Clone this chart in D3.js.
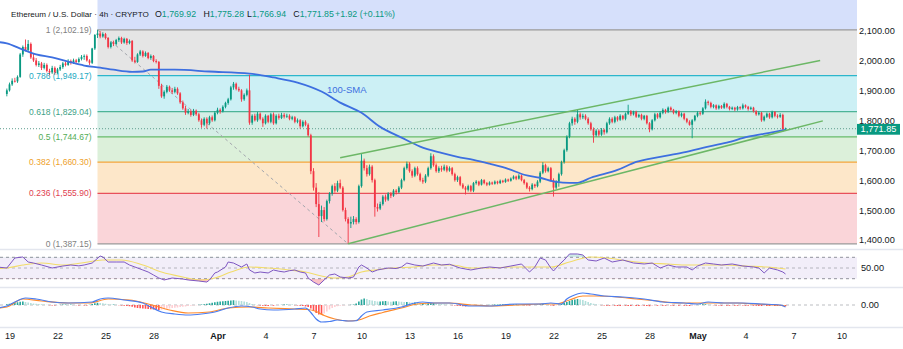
<!DOCTYPE html>
<html>
<head>
<meta charset="utf-8">
<script src="https://cdn.jsdelivr.net/npm/d3@7"></script>
<style>
  html, body { margin: 0; padding: 0; background: #ffffff; }
  svg { display: block; font-family: "Liberation Sans", Arial, sans-serif; }
</style>
</head>
<body>
<svg id="chart" width="903" height="349"></svg>
<script>
// ETH/USD 4h candles, first bar opens 18 Mar 2025 20:00 UTC
const candleStart = Date.UTC(2025, 2, 18, 20);
const candleHours = 4;

// [open, high, low, close]
const ohlc = [
  [1888,1906,1880,1900],
  [1900,1926,1896,1920],[1920,1940,1915,1932],[1932,1942,1926,1930],[1930,1950,1925,1945],[1945,2025,1942,2020],[2020,2050,2012,2045],
  [2045,2070,2030,2035],[2035,2068,2028,2055],[2055,2060,2005,2010],[2010,2022,1995,2000],[2000,2008,1980,1985],[1985,1998,1978,1990],
  [1990,1995,1968,1975],[1975,1992,1970,1985],[1985,1990,1960,1965],[1965,1972,1950,1960],[1960,1982,1955,1975],[1975,1980,1952,1958],
  [1958,1975,1954,1970],[1970,1985,1965,1978],[1978,1995,1972,1990],[1990,1996,1980,1985],[1985,2004,1982,1998],[1998,2003,1986,1992],
  [1992,2006,1988,2000],[2000,2005,1990,1995],[1995,2010,1992,2005],[2005,2018,2000,2012],[2012,2020,2002,2015],[2015,2020,1996,2000],
  [2000,2004,1985,1992],[1992,2042,1988,2040],[2040,2088,2035,2085],[2085,2102.19,2075,2090],[2090,2098,2074,2080],[2080,2094,2076,2088],
  [2088,2092,2070,2075],[2075,2078,2040,2045],[2045,2064,2040,2060],[2060,2066,2048,2055],[2055,2072,2050,2068],[2068,2080,2062,2075],
  [2075,2079,2055,2060],[2060,2076,2056,2072],[2072,2075,2052,2058],[2058,2070,2054,2065],[2065,2068,1995,2000],[2000,2012,1990,1995],
  [1995,2024,1992,2020],[2020,2035,2015,2030],[2030,2034,2010,2015],[2015,2030,2012,2025],[2025,2028,2004,2008],[2008,2020,2002,2015],
  [2015,2018,1994,1998],[1998,2004,1990,1995],[1995,1998,1905,1915],[1915,1922,1875,1880],[1880,1900,1872,1895],[1895,1918,1890,1912],
  [1912,1916,1895,1900],[1900,1908,1888,1895],[1895,1912,1890,1905],[1905,1910,1885,1890],[1890,1894,1855,1860],[1860,1866,1835,1840],
  [1840,1848,1818,1825],[1825,1838,1820,1830],[1830,1836,1812,1818],[1818,1838,1814,1832],[1832,1836,1815,1820],[1820,1825,1795,1800],
  [1800,1806,1775,1785],[1785,1810,1780,1805],[1805,1810,1772,1790],[1790,1815,1785,1810],[1810,1816,1795,1800],[1800,1830,1796,1825],
  [1825,1842,1820,1835],[1835,1840,1822,1830],[1830,1850,1826,1845],[1845,1862,1840,1858],[1858,1875,1852,1870],[1870,1915,1866,1910],
  [1910,1928,1902,1922],[1922,1926,1900,1905],[1905,1912,1895,1900],[1900,1904,1862,1870],[1870,1890,1865,1885],[1885,1906,1880,1900],
  [1900,1952,1785,1792],[1792,1820,1785,1815],[1815,1822,1796,1800],[1800,1828,1795,1822],[1822,1826,1800,1805],[1805,1810,1778,1790],
  [1790,1820,1786,1815],[1815,1818,1790,1795],[1795,1825,1790,1820],[1820,1826,1785,1790],[1790,1820,1786,1815],[1815,1822,1802,1808],
  [1808,1825,1804,1818],[1818,1824,1806,1812],[1812,1822,1808,1815],[1815,1820,1800,1805],[1805,1815,1800,1810],[1810,1814,1790,1795],
  [1795,1806,1790,1800],[1800,1804,1772,1780],[1780,1800,1776,1795],[1795,1800,1780,1785],[1785,1790,1745,1750],[1750,1755,1620,1630],
  [1630,1640,1565,1575],[1575,1590,1510,1520],[1520,1560,1410,1480],[1480,1515,1460,1500],[1500,1510,1462,1470],[1470,1535,1465,1530],
  [1530,1560,1522,1555],[1555,1585,1548,1580],[1580,1590,1558,1565],[1565,1598,1560,1590],[1590,1602,1570,1575],[1575,1580,1495,1500],
  [1500,1508,1462,1470],[1470,1476,1387.15,1455],[1455,1478,1440,1460],[1460,1480,1452,1470],[1470,1476,1452,1460],[1460,1585,1455,1580],
  [1580,1687,1575,1665],[1665,1672,1632,1640],[1640,1650,1612,1620],[1620,1652,1615,1645],[1645,1650,1592,1600],[1600,1605,1478,1510],
  [1510,1522,1495,1505],[1505,1528,1500,1520],[1520,1550,1515,1545],[1545,1552,1528,1535],[1535,1560,1530,1555],[1555,1560,1540,1548],
  [1548,1570,1544,1565],[1565,1570,1552,1560],[1560,1580,1556,1575],[1575,1605,1570,1600],[1600,1645,1596,1640],[1640,1662,1635,1655],
  [1655,1660,1625,1630],[1630,1636,1608,1615],[1615,1645,1610,1640],[1640,1646,1615,1620],[1620,1625,1595,1600],[1600,1608,1588,1595],
  [1595,1620,1590,1615],[1615,1645,1610,1640],[1640,1690,1635,1680],[1680,1686,1645,1650],[1650,1656,1625,1630],[1630,1646,1624,1640],
  [1640,1648,1628,1635],[1635,1652,1630,1645],[1645,1650,1626,1632],[1632,1646,1628,1640],[1640,1644,1615,1620],[1620,1625,1595,1600],
  [1600,1615,1594,1610],[1610,1614,1580,1585],[1585,1590,1570,1575],[1575,1580,1552,1568],[1568,1585,1562,1580],[1580,1584,1560,1565],
  [1565,1594,1560,1590],[1590,1600,1585,1595],[1595,1598,1580,1585],[1585,1604,1582,1600],[1600,1603,1586,1590],[1590,1594,1580,1585],
  [1585,1596,1582,1592],[1592,1595,1584,1588],[1588,1599,1585,1595],[1595,1598,1586,1590],[1590,1602,1587,1598],[1598,1601,1590,1594],
  [1594,1606,1591,1602],[1602,1605,1594,1598],[1598,1609,1595,1605],[1605,1616,1602,1612],[1612,1615,1600,1605],[1605,1620,1602,1615],
  [1615,1618,1596,1600],[1600,1604,1585,1590],[1590,1594,1570,1575],[1575,1580,1562,1570],[1570,1590,1566,1585],[1585,1588,1574,1580],
  [1580,1600,1576,1595],[1595,1630,1590,1625],[1625,1660,1620,1650],[1650,1655,1625,1630],[1630,1645,1626,1640],[1640,1644,1595,1600],
  [1600,1606,1545,1575],[1575,1600,1570,1595],[1595,1625,1578,1620],[1620,1665,1615,1660],[1660,1705,1655,1700],[1700,1750,1695,1745],
  [1745,1795,1740,1790],[1790,1812,1782,1805],[1805,1810,1785,1795],[1795,1835,1790,1820],[1820,1826,1802,1810],[1810,1822,1804,1815],
  [1815,1820,1800,1805],[1805,1810,1785,1790],[1790,1795,1765,1770],[1770,1776,1725,1750],[1750,1770,1745,1765],[1765,1770,1746,1752],
  [1752,1774,1748,1768],[1768,1772,1752,1760],[1760,1795,1756,1790],[1790,1810,1785,1805],[1805,1810,1790,1795],[1795,1815,1790,1810],
  [1810,1814,1796,1802],[1802,1820,1798,1815],[1815,1818,1800,1805],[1805,1826,1800,1822],[1822,1852,1818,1830],[1830,1834,1814,1820],
  [1820,1832,1816,1828],[1828,1832,1808,1812],[1812,1822,1808,1818],[1818,1822,1800,1805],[1805,1818,1800,1815],[1815,1818,1786,1790],
  [1790,1794,1760,1770],[1770,1804,1766,1800],[1800,1825,1796,1820],[1820,1824,1805,1810],[1810,1830,1806,1825],[1825,1840,1820,1835],
  [1835,1838,1822,1828],[1828,1846,1824,1842],[1842,1846,1830,1835],[1835,1838,1820,1825],[1825,1834,1820,1830],[1830,1833,1810,1815],
  [1815,1826,1810,1822],[1822,1825,1800,1805],[1805,1808,1790,1795],[1795,1800,1782,1785],[1785,1804,1740,1800],[1800,1818,1796,1815],
  [1815,1830,1810,1825],[1825,1830,1816,1822],[1822,1844,1818,1840],[1840,1870,1836,1862],[1862,1866,1850,1858],[1858,1862,1840,1845],
  [1845,1854,1840,1850],[1850,1853,1835,1840],[1840,1852,1836,1848],[1848,1851,1838,1842],[1842,1860,1838,1855],[1855,1858,1840,1845],
  [1845,1848,1833,1838],[1838,1846,1834,1842],[1842,1845,1830,1836],[1836,1848,1832,1844],[1844,1847,1835,1840],[1840,1856,1836,1850],
  [1850,1853,1840,1845],[1845,1848,1832,1838],[1838,1846,1834,1842],[1842,1845,1826,1830],[1830,1834,1815,1820],[1820,1830,1816,1825],
  [1825,1828,1795,1800],[1800,1816,1796,1812],[1812,1826,1808,1822],[1822,1825,1805,1810],[1810,1832,1806,1828],[1828,1831,1810,1815],
  [1815,1820,1806,1812],[1812,1824,1808,1818],[1818,1822,1762,1769.93],[1769.92,1775.28,1766.94,1771.85]
];

// Fibonacci retracement between the 24 Mar high and the 9 Apr low
const fibRatios = ["1", "0.786", "0.618", "0.5", "0.382", "0.236", "0"];
const fibPrices = [2102.19, 1949.17, 1829.04, 1744.67, 1660.30, 1555.90, 1387.15];
const fibHighBar = 34;
const fibLowBar = 128;

// Rising channel: [bar index, price] end points
const channelUpper = [[125, 1675], [305, 1999.5]];
const channelLower = [[128, 1387.15], [306, 1798]];

// 100-period simple moving average, [bar index, price]
const smaPoints = [[-4,2062],[0,2057],[6,2036],[11,2020],[17,2010],[23,1996],[29,1983],[35,1976],[40,1969],[47,1962],
  [51,1963],[54,1969],[63,1969],[76,1963],[91,1956],[100,1943],[109,1926],[118,1896],[125,1859],[133,1825],[140,1778],
  [148,1742],[155,1712],[163,1691],[169,1678],[175,1668],[181,1655],[188,1638],[194,1618],[200,1608],[206,1594],[211,1591],
  [214,1591],[219,1608],[229,1634],[236,1661],[245,1678],[253,1691],[261,1708],[270,1725],[278,1745],[286,1758],[292,1768]];

// RSI(14) and its moving average, [bar index, value]
const rsiPoints = [[-4,52],[0,50],[3,68.7],[6,70.6],[8,61.2],[10,59.3],[13,55.6],[17,50],[21,53.7],[24,55.6],[27,54],[29,55.6],
  [32,59.3],[35,72.4],[36,70.6],[38,61.2],[41,61.2],[44,61.2],[46,55.6],[48,51.9],[51,46.3],[53,42.5],[55,36.9],[57,31.3],
  [59,27.6],[62,31.3],[66,29.4],[68,27.6],[72,25.7],[75,23.8],[76,27.6],[78,40.7],[79,42.5],[82,51.9],[83,61.2],[85,59.3],
  [88,51.9],[90,57.5],[91,46.3],[93,40.7],[95,42.5],[98,40.7],[100,46.3],[102,44],[104,42.5],[106,45],[108,46.3],[110,42.5],
  [112,40.7],[113,31.3],[115,23.8],[117,18.2],[119,27.6],[121,36.9],[123,38.8],[125,33.2],[128,31.3],[130,33.2],[132,51.9],
  [133,55.6],[135,50],[137,42.5],[139,46.3],[143,50],[146,49],[148,51.9],[150,59.3],[153,55.6],[156,53.7],[160,59.3],
  [163,55.6],[166,57],[170,50],[174,46.3],[178,50],[181,51.9],[185,50],[189,53.7],[193,57.5],[196,42.5],[198,51.9],
  [200,68.7],[202,65],[204,50],[205,44.4],[207,55.6],[209,65],[211,76.2],[214,76.2],[216,74.3],[218,65],[221,63.1],
  [224,68.7],[227,61.2],[231,65],[235,59.3],[239,57.5],[242,59.3],[245,50],[248,55.6],[251,51.9],[255,51.9],[257,46.3],
  [259,53.7],[262,59.3],[265,57.5],[268,55.6],[272,57.5],[276,53.7],[280,51.9],[282,50],[284,40.7],[286,50],[289,46.3],
  [291,42.5],[292,38.8]];
const rsiMaPoints = [[-4,49],[0,50],[6,55.6],[13,59.3],[21,55.6],[28,59.3],[36,65],[43,65],[51,55.6],[58,42.5],[66,33.2],
  [73,27.6],[78,31.3],[84,42.5],[91,51.9],[98,50],[106,46.3],[112,42.5],[118,35],[123,31.3],[128,33.2],[133,42.5],
  [138,46.3],[145,50],[153,51.9],[160,55.6],[167,55.6],[174,50],[181,50],[189,51.9],[196,51.9],[204,51.9],[211,61.2],
  [219,70.6],[225,68.7],[233,63.1],[240,59.3],[248,57.5],[255,55.6],[263,55.6],[270,55.6],[277,53.7],[285,51.9],[292,48.1]];

// MACD(12,26,9): MACD line, signal line, [bar index, value]
const macdPoints = [[-4,-12],[0,-4],[3,12],[7,28],[11,24],[17,12],[23,8],[32,12],[35,24],[38,28],[44,20],[51,8],[54,-8],
  [58,-28],[63,-36],[68,-40],[73,-36],[78,-28],[83,-12],[88,-4],[92,-8],[95,-16],[100,-20],[108,-16],[112,-12],[114,-30],
  [116,-56],[118,-68],[121,-66],[124,-60],[128,-64],[131,-63],[133,-44],[135,-28],[141,-20],[148,-8],[153,8],[156,12],
  [160,8],[166,8],[174,-4],[181,-4],[191,4],[200,4],[204,8],[208,4],[210,24],[212,36],[216,48],[219,44],[224,36],[231,32],
  [239,24],[246,12],[254,8],[259,4],[263,12],[269,8],[276,8],[283,4],[290,0],[292,-8]];
const signalPoints = [[-4,-12],[0,-8],[6,24],[13,16],[23,8],[31,8],[38,24],[46,20],[53,4],[61,-20],[68,-32],[76,-28],
  [83,-12],[91,-8],[98,-12],[108,-16],[113,-18],[116,-26],[119,-42],[123,-56],[128,-64],[132,-60],[136,-44],[141,-30],
  [148,-12],[154,4],[160,8],[166,8],[174,0],[181,-4],[191,0],[200,4],[206,4],[211,20],[216,36],[221,36],[229,32],[236,24],
  [244,16],[251,8],[259,8],[266,8],[274,8],[281,4],[289,0],[292,-4]];
// MACD histogram, one value per bar
const macdHist = [
  3,5,7,9,11,13,14,12,10,8,
  6,5,4,3,2,1,-1,-2,-2,-1,
  1,2,2,1,2,1,-1,-2,-1,-2,
  -2,1,4,7,9,8,7,5,3,2,
  2,1,-1,-2,-3,-4,-5,-7,-10,-12,
  -13,-14,-15,-16,-17,-18,-18,-20,-19,-17,
  -15,-14,-12,-11,-10,-8,-7,-6,-4,-3,
  -2,-1,1,2,3,5,7,9,11,13,
  14,15,16,17,18,19,18,17,16,14,
  12,8,4,2,-1,-2,-3,-4,-4,-3,
  -3,-2,-1,1,2,2,1,1,-1,-2,
  -3,-4,-6,-8,-14,-24,-32,-38,-40,-34,
  -26,-18,-12,-8,-5,-3,-2,-1,0,1,
  2,6,14,22,26,24,20,18,16,14,
  14,15,16,14,13,14,15,14,13,12,
  12,11,10,10,9,8,8,7,7,8,
  8,6,5,4,3,2,1,-1,-2,-3,
  -4,-5,-6,-5,-4,-3,-3,-2,-2,-1,
  -1,1,1,2,2,2,3,3,3,2,
  3,3,2,1,-1,-2,-2,-1,1,2,
  3,4,3,1,-2,-3,-2,1,4,8,
  12,16,20,22,24,22,20,16,12,8,
  5,3,1,-1,-2,-3,-3,-2,-3,-4,
  -4,-3,-3,-4,-4,-3,-4,-4,-3,-3,
  -4,-5,-4,-3,-3,-2,-3,-3,-2,-2,
  -3,-2,-3,-2,-3,-3,-4,-3,-2,1,
  2,3,3,2,1,-1,-2,-2,-3,-2,
  -3,-3,-2,-3,-3,-2,-2,-3,-3,-2,
  -3,-3,-4,-4,-3,-4,-4,-3,-4,-4,
  -4,-5,-5
];

// Axis ticks
const priceTicks = [1400, 1500, 1600, 1700, 1800, 1900, 2000, 2100];
const timeTickDays = [[2,19],[2,22],[2,25],[2,28],[3,1],[3,4],[3,7],[3,10],[3,13],[3,16],[3,19],[3,22],[3,25],[3,28],[4,1],[4,4],[4,7],[4,10]];
const timeTickLabels = ["19","22","25","28","Apr","4","7","10","13","16","19","22","25","28","May","4","7","10"];

// ---------- styling ----------
const UP = "#089981", DOWN = "#f23645";
const fibTopFill = "#d6e0fb";
const fibBandFills = ["#e5e5e5", "#ccf0f5", "#d5eee6", "#dcf0da", "#fde7c9", "#fad5d9"];
const fibLineColors = ["#9a9a9a", "#2cb6cc", "#4db497", "#66bb6a", "#f3a53a", "#e8505b", "#9a9a9a"];
const fibTextColors = ["#7f7f7f", "#22a9c2", "#3d9f86", "#52ac55", "#ee9f2a", "#e0414f", "#7f7f7f"];
const textColor = "#131722";
const fmt2 = d3.format(",.2f");

const svg = d3.select("#chart");
const plotR = 857;

const x = d3.scaleUtc()
  .domain([new Date(Date.UTC(2025, 2, 19)), new Date(Date.UTC(2025, 4, 10))])
  .range([9.5, 841.5]);
const timeOf = i => new Date(candleStart + i * candleHours * 3600e3);
const xi = i => x(timeOf(i));
const y = d3.scaleLinear().domain([1400, 2100]).range([240, 30.5]);

const defs = svg.append("defs");
const clip = (id, x0, y0, w, h) => defs.append("clipPath").attr("id", id)
  .append("rect").attr("x", x0).attr("y", y0).attr("width", w).attr("height", h);
clip("clipMain", 0, 0, plotR, 247);
clip("clipRsi", 0, 250, plotR, 37);
clip("clipMacd", 0, 289, plotR, 38);

// ---------- main price pane ----------
const gMain = svg.append("g").attr("clip-path", "url(#clipMain)");
const fibX0 = xi(fibHighBar);

gMain.append("rect").attr("x", fibX0).attr("y", 0)
  .attr("width", plotR - fibX0).attr("height", y(fibPrices[0])).attr("fill", fibTopFill);
fibBandFills.forEach((c, k) => {
  gMain.append("rect").attr("x", fibX0).attr("y", y(fibPrices[k]))
    .attr("width", plotR - fibX0).attr("height", y(fibPrices[k + 1]) - y(fibPrices[k]))
    .attr("fill", c);
});
fibPrices.forEach((p, k) => {
  gMain.append("line").attr("x1", fibX0).attr("x2", plotR)
    .attr("y1", y(p)).attr("y2", y(p))
    .attr("stroke", fibLineColors[k]).attr("stroke-width", 1.2);
});
svg.append("g").selectAll("text").data(fibPrices).join("text")
  .attr("x", fibX0 - 6).attr("y", p => y(p) + 3)
  .attr("text-anchor", "end").attr("font-size", 8.5)
  .attr("fill", (p, k) => fibTextColors[k])
  .text((p, k) => `${fibRatios[k]} (${fmt2(p)})`);

// retracement trend line
gMain.append("line")
  .attr("x1", xi(fibHighBar)).attr("y1", y(fibPrices[0]))
  .attr("x2", xi(fibLowBar)).attr("y2", y(fibPrices[6]))
  .attr("stroke", "#a3a6ad").attr("stroke-width", 1).attr("stroke-dasharray", "3 3");

// last price line
const lastBar = ohlc[ohlc.length - 1];
gMain.append("line").attr("x1", 0).attr("x2", plotR)
  .attr("y1", y(lastBar[3])).attr("y2", y(lastBar[3]))
  .attr("stroke", "#5f9d8f").attr("stroke-width", 1).attr("stroke-dasharray", "1 2");

// candles
const bodyW = 1.8;
gMain.append("g").selectAll("line").data(ohlc).join("line")
  .attr("x1", (d, i) => xi(i)).attr("x2", (d, i) => xi(i))
  .attr("y1", d => y(d[1])).attr("y2", d => y(d[2]))
  .attr("stroke", d => d[3] >= d[0] ? UP : DOWN).attr("stroke-width", 0.9);
gMain.append("g").selectAll("rect").data(ohlc).join("rect")
  .attr("x", (d, i) => xi(i) - bodyW / 2).attr("width", bodyW)
  .attr("y", d => y(Math.max(d[0], d[3])))
  .attr("height", d => Math.max(0.9, Math.abs(y(d[0]) - y(d[3]))))
  .attr("fill", d => d[3] >= d[0] ? UP : DOWN);

// 100-SMA
const priceLine = d3.line().x(d => xi(d[0])).y(d => y(d[1])).curve(d3.curveMonotoneX);
gMain.append("path").attr("d", priceLine(smaPoints))
  .attr("fill", "none").attr("stroke", "#3d6fe0").attr("stroke-width", 1.8);
svg.append("text").attr("x", 327).attr("y", 93).attr("font-size", 9.5)
  .attr("fill", "#3d6fe0").text("100-SMA");

// channel lines
[channelUpper, channelLower].forEach(seg => {
  gMain.append("path").attr("d", d3.line().x(d => xi(d[0])).y(d => y(d[1]))(seg))
    .attr("fill", "none").attr("stroke", "#6cb766").attr("stroke-width", 1.5);
});

// price axis
const yAxis = d3.axisRight(y).tickValues(priceTicks).tickFormat(fmt2).tickSize(0).tickPadding(2);
svg.append("g").attr("transform", `translate(${plotR},0)`).call(yAxis)
  .call(g => g.select(".domain").remove())
  .attr("font-family", null).attr("font-size", 9.2)
  .selectAll("text").attr("fill", textColor);

svg.append("rect").attr("x", plotR).attr("y", y(lastBar[3]) - 4.8)
  .attr("width", 43).attr("height", 10.8).attr("fill", UP);
svg.append("text").attr("x", plotR + 21.5).attr("y", y(lastBar[3]) + 3.6)
  .attr("text-anchor", "middle").attr("font-size", 9.2).attr("fill", "#ffffff")
  .text(fmt2(lastBar[3]));

// legend line
const prevClose = ohlc[ohlc.length - 2][3];
const chg = lastBar[3] - prevClose;
const legend = svg.append("g").attr("font-size", 8.8);
legend.append("text").attr("x", 11).attr("y", 17).attr("font-size", 8.1).attr("fill", textColor)
  .text("Ethereum / U.S. Dollar · 4h · CRYPTO");
[["O", lastBar[0], 155], ["H", lastBar[1], 203.5], ["L", lastBar[2], 247], ["C", lastBar[3], 293.3]]
  .forEach(([k, v, px]) => {
    const t = legend.append("text").attr("x", px).attr("y", 17).attr("fill", textColor);
    t.append("tspan").text(k);
    t.append("tspan").attr("fill", UP).text(fmt2(v));
  });
legend.append("text").attr("x", 335).attr("y", 17).attr("fill", UP)
  .text(`${chg >= 0 ? "+" : ""}${chg.toFixed(2)} (${chg >= 0 ? "+" : ""}${(chg / prevClose * 100).toFixed(2)}%)`);

// pane separators
[249.5, 287.5, 327.5].forEach(sy => {
  svg.append("line").attr("x1", 0).attr("x2", 903).attr("y1", sy).attr("y2", sy)
    .attr("stroke", "#e3e6ee").attr("stroke-width", 1.5);
});

// ---------- RSI pane ----------
const yR = d3.scaleLinear().domain([30, 70]).range([278.7, 257.3]);
const gRsi = svg.append("g").attr("clip-path", "url(#clipRsi)");
gRsi.append("rect").attr("x", 0).attr("y", yR(70)).attr("width", plotR)
  .attr("height", yR(30) - yR(70)).attr("fill", "#7e57c2").attr("fill-opacity", 0.1);
[70, 50, 30].forEach(v => {
  gRsi.append("line").attr("x1", 0).attr("x2", plotR).attr("y1", yR(v)).attr("y2", yR(v))
    .attr("stroke", "#787b86").attr("stroke-opacity", v === 50 ? 0.5 : 0.8)
    .attr("stroke-dasharray", "3 3");
});
clip("clipRsiLow", 0, yR(30), plotR, 287 - yR(30));
clip("clipRsiHigh", 0, 250, plotR, yR(70) - 250);
gRsi.append("path").attr("clip-path", "url(#clipRsiLow)")
  .attr("d", d3.area().x(d => xi(d[0])).y0(yR(30)).y1(d => yR(d[1]))(rsiPoints))
  .attr("fill", "#f23645").attr("fill-opacity", 0.3);
gRsi.append("path").attr("clip-path", "url(#clipRsiHigh)")
  .attr("d", d3.area().x(d => xi(d[0])).y0(yR(70)).y1(d => yR(d[1]))(rsiPoints))
  .attr("fill", "#089981").attr("fill-opacity", 0.2);
gRsi.append("path").attr("d", d3.line().x(d => xi(d[0])).y(d => yR(d[1])).curve(d3.curveMonotoneX)(rsiMaPoints))
  .attr("fill", "none").attr("stroke", "#f2dc6a").attr("stroke-width", 1.1);
gRsi.append("path").attr("d", d3.line().x(d => xi(d[0])).y(d => yR(d[1]))(rsiPoints))
  .attr("fill", "none").attr("stroke", "#7e57c2").attr("stroke-width", 1);
svg.append("g").attr("transform", `translate(${plotR},0)`)
  .call(d3.axisRight(yR).tickValues([50]).tickFormat(fmt2).tickSize(0).tickPadding(4))
  .call(g => g.select(".domain").remove())
  .attr("font-family", null).attr("font-size", 9.2)
  .selectAll("text").attr("fill", textColor);

// ---------- MACD pane ----------
const yM = d3.scaleLinear().domain([-84, 64]).range([326, 289]);
const gMacd = svg.append("g").attr("clip-path", "url(#clipMacd)");
gMacd.append("line").attr("x1", 0).attr("x2", plotR).attr("y1", yM(0)).attr("y2", yM(0))
  .attr("stroke", "#787b86").attr("stroke-opacity", 0.5).attr("stroke-dasharray", "3 3");
gMacd.append("g").selectAll("rect").data(macdHist).join("rect")
  .attr("x", (v, i) => xi(i) - 0.8).attr("width", 1.6)
  .attr("y", v => Math.min(yM(0), yM(v)))
  .attr("height", v => Math.abs(yM(v) - yM(0)))
  .attr("fill", (v, i) => {
    const prev = i > 0 ? macdHist[i - 1] : v;
    if (v >= 0) return v >= prev ? "#26a69a" : "#b2dfdb";
    return v <= prev ? "#ff5252" : "#ffcdd2";
  });
const macdLine = d3.line().x(d => xi(d[0])).y(d => yM(d[1])).curve(d3.curveMonotoneX);
gMacd.append("path").attr("d", macdLine(signalPoints))
  .attr("fill", "none").attr("stroke", "#ff8a2b").attr("stroke-width", 1.2);
gMacd.append("path").attr("d", macdLine(macdPoints))
  .attr("fill", "none").attr("stroke", "#4a7df0").attr("stroke-width", 1.2);
svg.append("g").attr("transform", `translate(${plotR},0)`)
  .call(d3.axisRight(yM).tickValues([0]).tickFormat(fmt2).tickSize(0).tickPadding(4))
  .call(g => g.select(".domain").remove())
  .attr("font-family", null).attr("font-size", 9.2)
  .selectAll("text").attr("fill", textColor);

// ---------- time axis ----------
const tickDates = timeTickDays.map(([m, d]) => new Date(Date.UTC(2025, m, d)));
svg.append("g").attr("transform", "translate(0,333)")
  .call(d3.axisBottom(x).tickValues(tickDates).tickFormat((d, k) => timeTickLabels[k]).tickSize(0).tickPadding(0))
  .call(g => g.select(".domain").remove())
  .attr("font-family", null).attr("font-size", 9)
  .selectAll("text").attr("fill", textColor)
  .attr("font-weight", (d, k) => isNaN(+timeTickLabels[k]) ? "bold" : null);
</script>
</body>
</html>
